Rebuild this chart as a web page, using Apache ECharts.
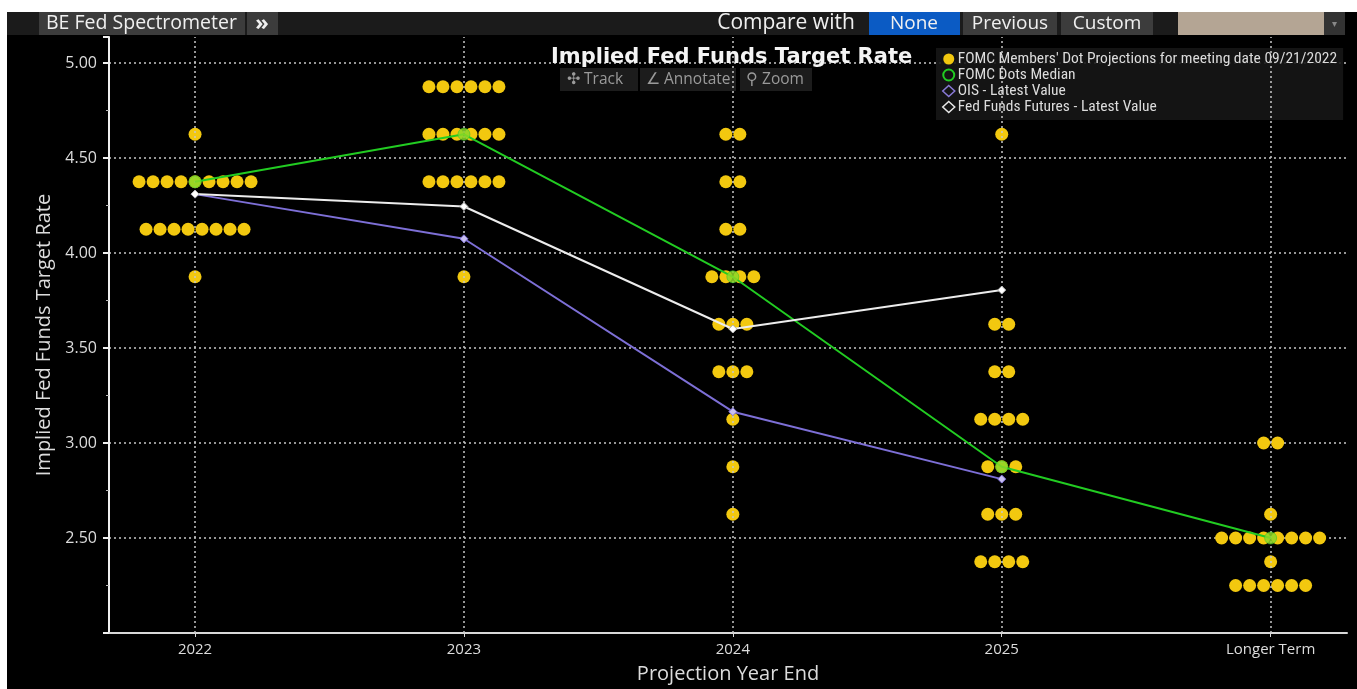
<!DOCTYPE html>
<html>
<head>
<meta charset="utf-8">
<script src="https://cdn.jsdelivr.net/npm/echarts@6/dist/echarts.min.js"></script>
<style>
html,body{margin:0;padding:0;background:#fff;}
#chart{width:1357px;height:689px;}
</style>
</head>
<body>
<div id="chart"></div>
<script>
// ---- data ----
const categories = ['2022', '2023', '2024', '2025', 'Longer Term'];
// [rate, number of participants] per projection year
const dots2022 = [[4.625, 1], [4.375, 9], [4.125, 8], [3.875, 1]];
const dots2023 = [[4.875, 6], [4.625, 6], [4.375, 6], [3.875, 1]];
const dots2024 = [[4.625, 2], [4.375, 2], [4.125, 2], [3.875, 4], [3.625, 3], [3.375, 3], [3.125, 1], [2.875, 1], [2.625, 1]];
const dots2025 = [[4.625, 1], [3.625, 2], [3.375, 2], [3.125, 4], [2.875, 3], [2.625, 3], [2.375, 4]];
const dotsLonger = [[3.0, 2], [2.625, 1], [2.5, 8], [2.375, 1], [2.25, 6]];
const medianValues = [4.375, 4.625, 3.875, 2.875, 2.5];
const oisValues = [4.31, 4.075, 3.165, 2.81, null];
const futuresValues = [4.31, 4.245, 3.60, 3.805, null];
const yTickLabels = [2.5, 3.0, 3.5, 4.0, 4.5, 5.0];

const allDots = [dots2022, dots2023, dots2024, dots2025, dotsLonger];
const DOT_STEP = 14; // horizontal spacing (px) of dots sharing a value

const scatterData = [];
allDots.forEach((rows, ci) => {
  rows.forEach(([rate, n]) => {
    for (let k = 0; k < n; k++) {
      scatterData.push({ value: [ci, rate], symbolOffset: [(k - (n - 1) / 2) * DOT_STEP, 0] });
    }
  });
});
const toXY = arr => arr.map((v, i) => v == null ? null : [i, v]).filter(Boolean);

const NARROW = "'Liberation Sans Narrow','Roboto Condensed','Liberation Sans',sans-serif";
const UI = "'Open Sans','Noto Sans',sans-serif";

const chart = echarts.init(document.getElementById('chart'), null, { renderer: 'canvas' });

const topBar = [
  { type: 'rect', shape: { x: 0, y: 0, width: 1357, height: 12 }, style: { fill: '#fff' }, silent: true },
  { type: 'rect', shape: { x: 0, y: 0, width: 7, height: 689 }, style: { fill: '#fff' }, silent: true },
  { type: 'rect', shape: { x: 7, y: 12, width: 1338, height: 23 }, style: { fill: '#1b1b1b' } },
  { type: 'rect', shape: { x: 39, y: 12, width: 206, height: 23 }, style: { fill: '#3c3c3c' } },
  { type: 'text', x: 46, y: 23.5, style: { text: 'BE Fed Spectrometer', fill: '#f0f0f0', font: '19.5px ' + UI, verticalAlign: 'middle' } },
  { type: 'rect', shape: { x: 247, y: 12, width: 31, height: 23 }, style: { fill: '#3c3c3c' } },
  { type: 'text', x: 262, y: 23.5, style: { text: '»', fill: '#f0f0f0', font: 'bold 22px ' + UI, align: 'center', verticalAlign: 'middle' } },
  { type: 'text', x: 786, y: 23.5, style: { text: 'Compare with', fill: '#f0f0f0', font: '21px ' + UI, align: 'center', verticalAlign: 'middle' } },
  { type: 'rect', shape: { x: 869, y: 12, width: 91, height: 23 }, style: { fill: '#0b5bc4' } },
  { type: 'text', x: 914, y: 23.5, style: { text: 'None', fill: '#f0f0f0', font: '19px ' + UI, align: 'center', verticalAlign: 'middle' } },
  { type: 'rect', shape: { x: 963, y: 12, width: 94, height: 23 }, style: { fill: '#3c3c3c' } },
  { type: 'text', x: 1010, y: 23.5, style: { text: 'Previous', fill: '#f0f0f0', font: '19px ' + UI, align: 'center', verticalAlign: 'middle' } },
  { type: 'rect', shape: { x: 1061, y: 12, width: 92, height: 23 }, style: { fill: '#3c3c3c' } },
  { type: 'text', x: 1107, y: 23.5, style: { text: 'Custom', fill: '#f0f0f0', font: '19px ' + UI, align: 'center', verticalAlign: 'middle' } },
  { type: 'rect', shape: { x: 1178, y: 12, width: 146, height: 23 }, style: { fill: '#b4a594' } },
  { type: 'rect', shape: { x: 1324, y: 12, width: 21, height: 23 }, style: { fill: '#333' } },
  { type: 'text', x: 1334.5, y: 24, style: { text: '▾', fill: '#888', font: '10px ' + UI, align: 'center', verticalAlign: 'middle' } },
  // toolbar
  { type: 'rect', shape: { x: 560, y: 68, width: 78, height: 23 }, style: { fill: '#1c1c1c' } },
  { type: 'text', x: 567, y: 79.5, style: { text: '✣ Track', fill: '#9a9a9a', font: '15.5px ' + UI, verticalAlign: 'middle' } },
  { type: 'rect', shape: { x: 640, y: 68, width: 96, height: 23 }, style: { fill: '#1c1c1c' } },
  { type: 'text', x: 646, y: 79.5, style: { text: '∠ Annotate', fill: '#9a9a9a', font: '15.5px ' + UI, verticalAlign: 'middle' } },
  { type: 'rect', shape: { x: 740, y: 68, width: 72, height: 23 }, style: { fill: '#1c1c1c' } },
  { type: 'text', x: 746, y: 79.5, style: { text: '⚲ Zoom', fill: '#9a9a9a', font: '15.5px ' + UI, verticalAlign: 'middle' } }
];

const option = {
  backgroundColor: '#000',
  animation: false,
  title: {
    text: 'Implied Fed Funds Target Rate',
    left: 546, top: 42,
    textStyle: { color: '#f4f4f4', fontSize: 21, fontWeight: 'bold', fontFamily: "'DejaVu Sans',sans-serif" }
  },
  legend: {
    orient: 'vertical',
    left: 936, top: 48,
    width: 406,
    padding: [3, 6, 5, 6],
    itemGap: 0,
    itemWidth: 12, itemHeight: 11,
    backgroundColor: 'rgba(22,22,22,0.9)',
    textStyle: { color: '#dcdcdc', fontSize: 15.5, lineHeight: 15, height: 15, fontFamily: NARROW, padding: [0, 0, 0, -2] },
    data: [
      { name: "FOMC Members' Dot Projections for meeting date 09/21/2022", icon: 'circle', itemStyle: { color: '#f2c80f' } },
      { name: 'FOMC Dots Median', icon: 'circle', itemStyle: { color: 'transparent', borderColor: '#22cc22', borderWidth: 2 } },
      { name: 'OIS - Latest Value', icon: 'diamond', itemStyle: { color: 'transparent', borderColor: '#8a7ad8', borderWidth: 1.5 } },
      { name: 'Fed Funds Futures - Latest Value', icon: 'diamond', itemStyle: { color: 'transparent', borderColor: '#e8e8e8', borderWidth: 1.5 } }
    ]
  },
  grid: { left: 109, right: 10, top: 37, bottom: 56, containLabel: false },
  xAxis: {
    type: 'value',
    min: -0.32, max: 4.284,
    name: 'Projection Year End',
    nameLocation: 'middle',
    nameGap: 31,
    nameTextStyle: { color: '#dcdcdc', fontSize: 20, fontFamily: UI },
    axisLine: { show: true, onZero: false, lineStyle: { color: '#d8d8d8', width: 2 } },
    axisTick: { show: true, customValues: [0, 1, 2, 3, 4], length: 4, lineStyle: { color: '#d8d8d8' } },
    axisLabel: {
      show: true, customValues: [0, 1, 2, 3, 4], margin: 9,
      color: '#dcdcdc', fontSize: 15, fontFamily: UI,
      formatter: v => categories[Math.round(v)] || ''
    },
    splitLine: { show: false }
  },
  yAxis: {
    type: 'value',
    min: 2.0, max: 5.137, interval: 0.5,
    name: 'Implied Fed Funds Target Rate',
    nameLocation: 'middle',
    nameGap: 46,
    nameRotate: 90,
    nameTextStyle: { color: '#dcdcdc', fontSize: 20, fontFamily: UI },
    axisLine: { show: true, onZero: false, lineStyle: { color: '#f0f0f0', width: 2 } },
    axisTick: { show: true, length: 6, lineStyle: { color: '#f0f0f0', width: 2 } },
    minorTick: { show: true, splitNumber: 2, length: 3, lineStyle: { color: '#bbb' } },
    axisLabel: {
      color: '#dcdcdc', fontSize: 16, fontFamily: UI, margin: 12,
      showMaxLabel: false,
      formatter: v => yTickLabels.some(t => Math.abs(t - v) < 1e-6) ? v.toFixed(2) : ''
    },
    splitLine: {
      show: true, showMinLine: false, showMaxLine: false,
      lineStyle: { color: '#c8c8c8', width: 1.5, type: [2, 3] }
    }
  },
  graphic: topBar,
  series: [
    {
      name: "FOMC Members' Dot Projections for meeting date 09/21/2022",
      type: 'scatter',
      symbol: 'circle',
      symbolSize: 13,
      itemStyle: { color: '#f2c80f', opacity: 1 },
      z: 3,
      data: scatterData,
      markLine: {
        silent: true,
        symbol: 'none',
        label: { show: false },
        lineStyle: { color: '#c8c8c8', width: 1.5, type: [2, 3] },
        data: categories.map((c, i) => ({ xAxis: i }))
      }
    },
    {
      name: 'FOMC Dots Median',
      type: 'line',
      data: toXY(medianValues),
      z: 5,
      symbol: 'circle',
      symbolSize: 12,
      showSymbol: true,
      lineStyle: { color: '#22cc22', width: 2 },
      itemStyle: { color: 'rgba(140,215,40,0.85)', borderColor: 'rgba(60,200,40,0.6)', borderWidth: 1 }
    },
    {
      name: 'OIS - Latest Value',
      type: 'line',
      data: toXY(oisValues),
      z: 6,
      symbol: 'diamond',
      symbolSize: 8,
      showSymbol: true,
      lineStyle: { color: '#7d6fd6', width: 2 },
      itemStyle: { color: '#c9c0f0', borderColor: '#7d6fd6', borderWidth: 1 }
    },
    {
      name: 'Fed Funds Futures - Latest Value',
      type: 'line',
      data: toXY(futuresValues),
      z: 7,
      symbol: 'diamond',
      symbolSize: 8,
      showSymbol: true,
      lineStyle: { color: '#ececec', width: 2 },
      itemStyle: { color: '#ffffff', borderColor: '#b0b0b0', borderWidth: 1 }
    }
  ]
};
chart.setOption(option);
</script>
</body>
</html>
